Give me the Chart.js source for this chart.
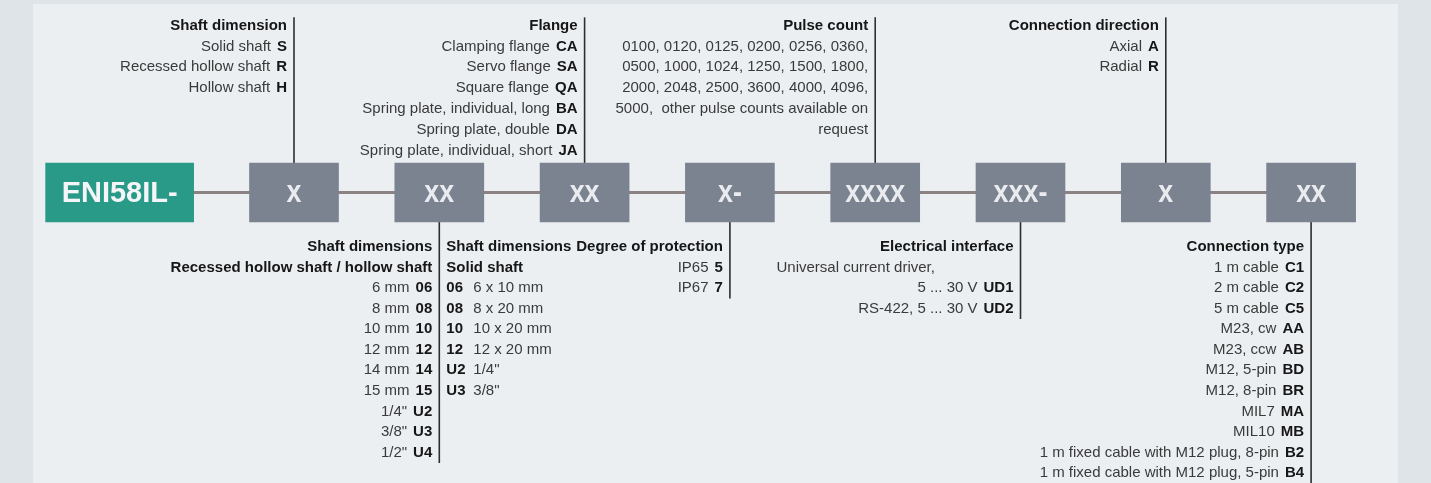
<!DOCTYPE html>
<html>
  <head>
    <title>ENI58IL type code</title>
    <style>
      body { margin: 0; background: #dfe4e9; }
      #wrap { width: 1431px; height: 483px; position: relative; }
    </style>
  </head>
  <body>
    <div id="wrap">
      <canvas id="chart1"></canvas>
    </div>
    <script src="https://cdn.jsdelivr.net/npm/chart.js"></script>
    <script>
// type code: prefix + 8 slots
const prefix = 'ENI58IL-';
const prefixPos = -0.2;
const slots = ['x', 'xx', 'xx', 'x-', 'xxxx', 'xxx-', 'x', 'xx'];
const slotPos = [1, 2, 3, 4, 5, 6, 7, 8];

// option lists [label, code]
const shaftDimension = [['Solid shaft', 'S'], ['Recessed hollow shaft', 'R'], ['Hollow shaft', 'H']];
const flange = [
  ['Clamping flange', 'CA'], ['Servo flange', 'SA'], ['Square flange', 'QA'],
  ['Spring plate, individual, long', 'BA'], ['Spring plate, double', 'DA'],
  ['Spring plate, individual, short', 'JA']
];
const pulseCount = [
  '0100, 0120, 0125, 0200, 0256, 0360,',
  '0500, 1000, 1024, 1250, 1500, 1800,',
  '2000, 2048, 2500, 3600, 4000, 4096,',
  '5000,  other pulse counts available on',
  'request'
];
const connectionDirection = [['Axial', 'A'], ['Radial', 'R']];
const hollowShaft = [
  ['6 mm', '06'], ['8 mm', '08'], ['10 mm', '10'], ['12 mm', '12'], ['14 mm', '14'],
  ['15 mm', '15'], ['1/4"', 'U2'], ['3/8"', 'U3'], ['1/2"', 'U4']
];
const solidShaft = [
  ['6 x 10 mm', '06'], ['8 x 20 mm', '08'], ['10 x 20 mm', '10'], ['12 x 20 mm', '12'],
  ['1/4"', 'U2'], ['3/8"', 'U3']
];
const protection = [['IP65', '5'], ['IP67', '7']];
const electrical = [['Universal current driver,', '', 'wrap'], ['5 ... 30 V', 'UD1'], ['RS-422, 5 ... 30 V', 'UD2']];
const connectionType = [
  ['1 m cable', 'C1'], ['2 m cable', 'C2'], ['5 m cable', 'C5'], ['M23, cw', 'AA'],
  ['M23, ccw', 'AB'], ['M12, 5-pin', 'BD'], ['M12, 8-pin', 'BR'], ['MIL7', 'MA'],
  ['MIL10', 'MB'], ['1 m fixed cable with M12 plug, 8-pin', 'B2'],
  ['1 m fixed cable with M12 plug, 5-pin', 'B4']
];

const groups = [
  {slot: 1, side: 'top', title: 'Shaft dimension', rows: shaftDimension},
  {slot: 3, side: 'top', title: 'Flange', rows: flange},
  {slot: 5, side: 'top', title: 'Pulse count', rows: pulseCount.map(t => [t, ''])},
  {slot: 7, side: 'top', title: 'Connection direction', rows: connectionDirection},
  {slot: 2, side: 'bottom', title: 'Shaft dimensions', sub: 'Recessed hollow shaft / hollow shaft', rows: hollowShaft},
  {slot: 2, side: 'bottom', align: 'left', title: 'Shaft dimensions', sub: 'Solid shaft', rows: solidShaft},
  {slot: 4, side: 'bottom', title: 'Degree of protection', rows: protection},
  {slot: 6, side: 'bottom', title: 'Electrical interface', rows: electrical},
  {slot: 8, side: 'bottom', title: 'Connection type', rows: connectionType}
];

// row geometry in y units (1 unit = one text row)
const BOX_HALF = 1.42;
const TOP_TITLE = -8.02, TOP_STEP = 1.0;
const BOT_TITLE = 2.61, BOT_STEP = 0.99;
const rowVal = (g, j) => g.side === 'top' ? TOP_TITLE + j * TOP_STEP : BOT_TITLE + j * BOT_STEP;
const rowCount = g => g.rows.length + (g.sub ? 1 : 0);

const FONT = '"Liberation Sans", Arial, sans-serif';
const TEXT = '#3a3a3a', DARK = '#161616';

// connector lines
const lineSets = [];
const seen = {};
groups.forEach(g => {
  const key = g.slot + g.side;
  const end = g.side === 'top' ? TOP_TITLE - 0.4 : rowVal(g, rowCount(g)) + 0.5;
  if (seen[key] !== undefined) {
    const d = lineSets[seen[key]].data;
    d[1].y = Math.max(d[1].y, end);
    return;
  }
  seen[key] = lineSets.length;
  lineSets.push({
    type: 'line',
    data: [{x: g.slot, y: g.side === 'top' ? -BOX_HALF : BOX_HALF}, {x: g.slot, y: end}],
    borderColor: '#2e2e2e', borderWidth: 1.6, pointRadius: 0, order: 5
  });
});

const bg = {
  id: 'bg',
  beforeDraw(chart) {
    const c = chart.ctx;
    c.save();
    c.fillStyle = '#dfe4e9';
    c.fillRect(0, 0, chart.width, chart.height);
    c.fillStyle = '#eceff2';
    c.fillRect(33, 4, 1365, chart.height - 4);
    c.restore();
  }
};

const labels = {
  id: 'labels',
  afterDatasetsDraw(chart) {
    const c = chart.ctx;
    const xs = chart.scales.x, ys = chart.scales.y;
    c.save();
    c.textBaseline = 'middle';
    // box texts
    const y0 = ys.getPixelForValue(0);
    c.fillStyle = '#f4f5f7';
    c.textAlign = 'center';
    c.font = 'bold 29px ' + FONT;
    c.fillText(prefix, xs.getPixelForValue(prefixPos), y0 + 1);
    slots.forEach((s, i) => {
      c.save();
      c.translate(xs.getPixelForValue(slotPos[i]), y0 + 1);
      c.scale(0.84, 1);
      c.font = 'bold 32px ' + FONT;
      c.fillStyle = '#e9ebef';
      c.fillText(s, 0, 0);
      c.restore();
    });
    // option texts
    groups.forEach(g => {
      const lx = xs.getPixelForValue(g.slot);
      const left = g.align === 'left';
      const ax = left ? lx + 7 : lx - 7;
      const py = j => ys.getPixelForValue(rowVal(g, j));
      c.textAlign = left ? 'left' : 'right';
      c.font = 'bold 15px ' + FONT;
      c.fillStyle = DARK;
      c.fillText(g.title, ax, py(0));
      let j = 1;
      if (g.sub) { c.fillText(g.sub, ax, py(1)); j = 2; }
      g.rows.forEach(r => {
        const y = py(j++);
        const [label, code, mode] = r;
        if (mode === 'wrap') {
          c.textAlign = 'left';
          c.font = '15px ' + FONT;
          c.fillStyle = TEXT;
          c.fillText(label, ax - 237, y);
          return;
        }
        if (left) {
          c.textAlign = 'left';
          c.font = 'bold 15px ' + FONT;
          c.fillStyle = DARK;
          c.fillText(code, ax, y);
          c.font = '15px ' + FONT;
          c.fillStyle = TEXT;
          c.fillText(label, ax + 27, y);
        } else {
          c.textAlign = 'right';
          c.font = 'bold 15px ' + FONT;
          c.fillStyle = DARK;
          let w = 0;
          if (code) { c.fillText(code, ax, y); w = c.measureText(code).width + 6; }
          c.font = '15px ' + FONT;
          c.fillStyle = TEXT;
          c.fillText(label, ax - w, y);
        }
      });
    });
    c.restore();
  }
};

const ctx = document.getElementById('chart1');
chart1 = new Chart(ctx, {
  type: 'bar',
  data: {
    datasets: [
      {
        data: [{x: prefixPos, y: [-BOX_HALF, BOX_HALF]}],
        backgroundColor: '#2a9a88', barThickness: 148, borderWidth: 0, order: 1
      },
      {
        data: slotPos.map(x => ({x: x, y: [-BOX_HALF, BOX_HALF]})),
        backgroundColor: '#7b8290', barThickness: 89, borderWidth: 0, order: 1
      },
      {
        type: 'line',
        data: [prefixPos].concat(slotPos).map(x => ({x: x, y: 0})),
        borderColor: '#8c8282', borderWidth: 3, pointRadius: 0, order: 10
      }
    ].concat(lineSets)
  },
  options: {
    responsive: true,
    maintainAspectRatio: false,
    animation: false,
    grouped: false,
    layout: { padding: 0 },
    scales: {
      x: { type: 'linear', display: false, offset: false, min: -1.0234, max: 8.8252 },
      y: { type: 'linear', display: false, reverse: true, min: -9.255, max: 13.966 }
    },
    plugins: {
      legend: { display: false },
      tooltip: { enabled: false }
    }
  },
  plugins: [bg, labels]
});
    </script>
  </body>
</html>
